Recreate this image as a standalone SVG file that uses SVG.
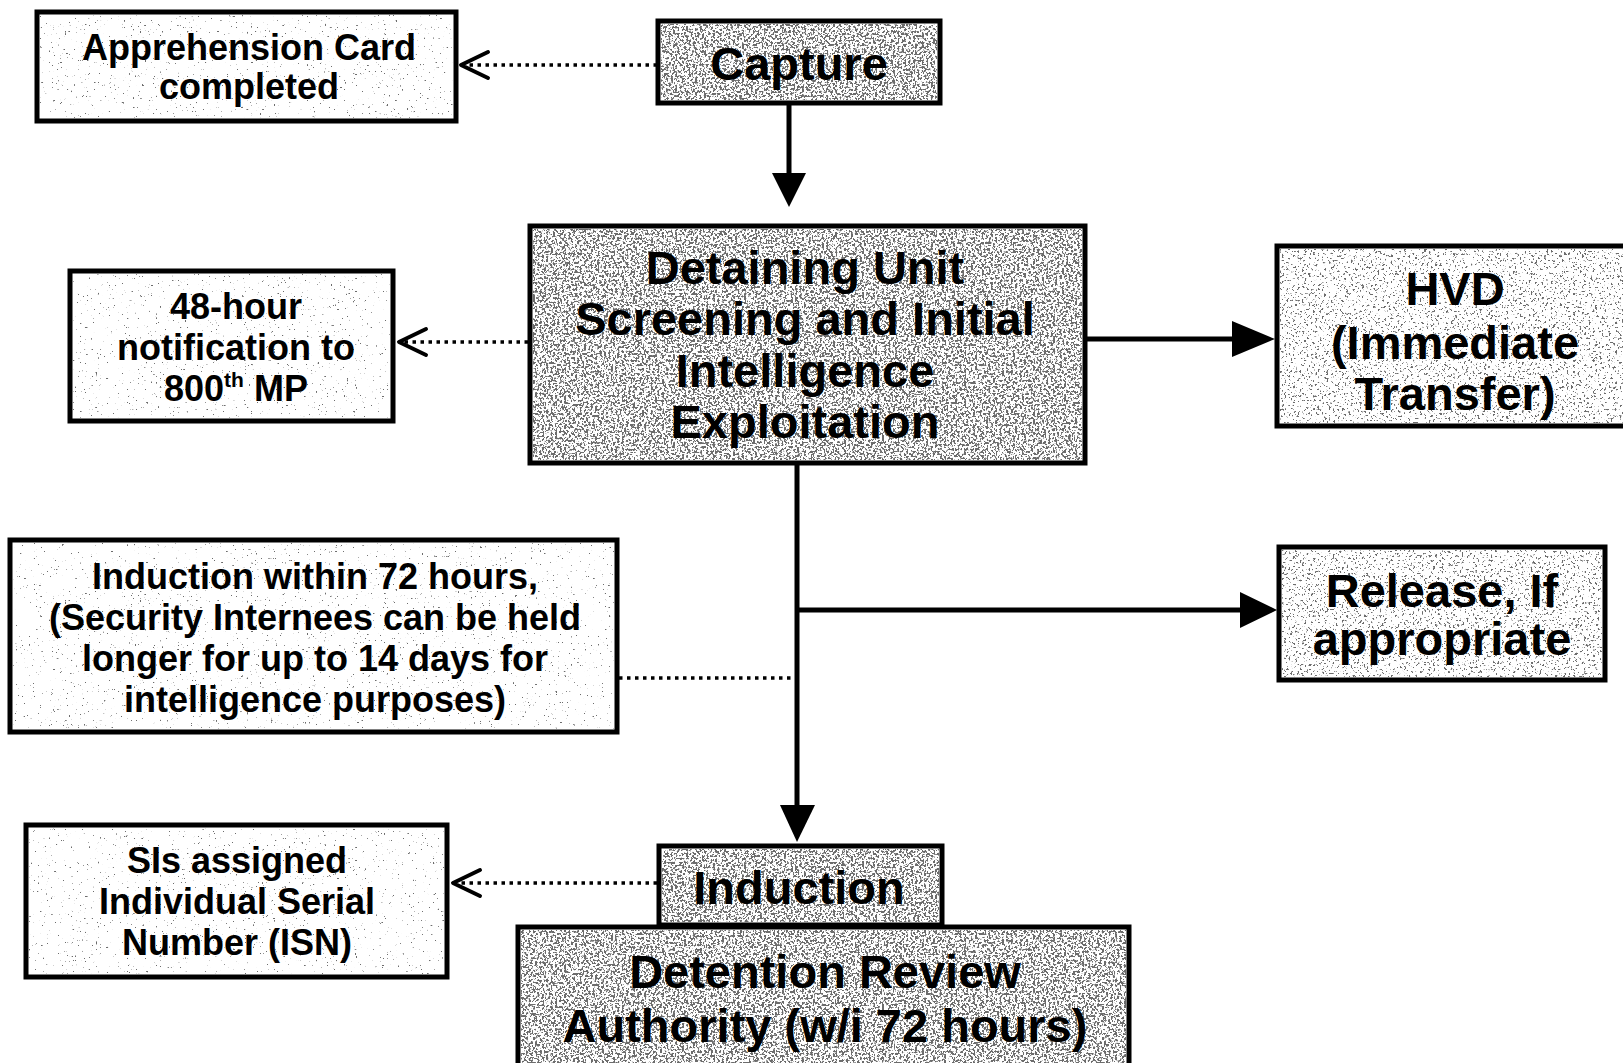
<svg xmlns="http://www.w3.org/2000/svg" width="1623" height="1063" viewBox="0 0 1623 1063">
  <style>
    .box { stroke: #000; stroke-width: 5; fill: #ffffff; }
    .t { font-family: "Liberation Sans", Arial, sans-serif; font-weight: bold; fill: #000; text-anchor: middle; }
    .s { font-size: 36px; }
    .l { font-size: 47px; }
    .solid { stroke: #000; stroke-width: 5; fill: none; }
    .dot { stroke: #000; stroke-width: 3.5; fill: none; stroke-dasharray: 3.5 4.5; }
    .chev { stroke: #000; stroke-width: 4; fill: none; stroke-linecap: round; stroke-linejoin: round; }
    .head { fill: #000; stroke: none; }
  </style>
  <defs>
    <filter id="nDark" x="0" y="0" width="100%" height="100%">
      <feTurbulence type="fractalNoise" baseFrequency="0.45" numOctaves="2" seed="4" result="n"/>
      <feColorMatrix in="n" type="matrix" values="0 0 0 0 0.15  0 0 0 0 0.15  0 0 0 0 0.15  16 0 0 0 -8.1" result="a"/>
      <feComposite in="a" in2="SourceGraphic" operator="in"/>
    </filter>
    <filter id="nMid" x="0" y="0" width="100%" height="100%">
      <feTurbulence type="fractalNoise" baseFrequency="0.45" numOctaves="2" seed="7" result="n"/>
      <feColorMatrix in="n" type="matrix" values="0 0 0 0 0.15  0 0 0 0 0.15  0 0 0 0 0.15  16 0 0 0 -9.8" result="a"/>
      <feComposite in="a" in2="SourceGraphic" operator="in"/>
    </filter>
    <filter id="nLight" x="0" y="0" width="100%" height="100%">
      <feTurbulence type="fractalNoise" baseFrequency="0.45" numOctaves="2" seed="11" result="n"/>
      <feColorMatrix in="n" type="matrix" values="0 0 0 0 0.15  0 0 0 0 0.15  0 0 0 0 0.15  16 0 0 0 -11.6" result="a"/>
      <feComposite in="a" in2="SourceGraphic" operator="in"/>
    </filter>
  </defs>
  <rect width="1623" height="1063" fill="#ffffff"/>

  <g id="connectors">
    <line class="dot" x1="657" y1="65" x2="464" y2="65"/>
    <polyline class="chev" points="488,52 461,65 488,78"/>
    <line class="solid" x1="789" y1="103" x2="789" y2="176"/>
    <polygon class="head" points="772,173 806,173 789,207"/>
    <line class="dot" x1="528" y1="342" x2="402" y2="342"/>
    <polyline class="chev" points="426,329 399,342 426,355"/>
    <line class="solid" x1="1087" y1="339" x2="1235" y2="339"/>
    <polygon class="head" points="1232,321 1232,357 1275,339"/>
    <line class="solid" x1="797" y1="463" x2="797" y2="808"/>
    <polygon class="head" points="780,805 815,805 797,842"/>
    <line class="solid" x1="797" y1="610" x2="1243" y2="610"/>
    <polygon class="head" points="1240,592 1240,628 1277,610"/>
    <line class="dot" x1="619" y1="678" x2="795" y2="678"/>
    <line class="dot" x1="657" y1="883" x2="456" y2="883"/>
    <polyline class="chev" points="480,870 453,883 480,896"/>
  </g>

  <g id="apprehension">
    <rect class="box" x="37" y="12" width="419" height="109"/>
    <rect x="40" y="15" width="413" height="103" fill="#000" filter="url(#nLight)"/>
    <text class="t s" x="249" y="60">Apprehension Card</text>
    <text class="t s" x="249" y="99">completed</text>
  </g>

  <g id="capture">
    <rect class="box" x="658" y="21" width="282" height="82"/>
    <rect x="661" y="24" width="276" height="76" fill="#000" filter="url(#nDark)"/>
    <text class="t l" x="799" y="80">Capture</text>
  </g>

  <g id="detaining">
    <rect class="box" x="530" y="226" width="555" height="237"/>
    <rect x="533" y="229" width="549" height="231" fill="#000" filter="url(#nDark)"/>
    <text class="t l" x="805" y="284">Detaining Unit</text>
    <text class="t l" x="805" y="335">Screening and Initial</text>
    <text class="t l" x="805" y="387">Intelligence</text>
    <text class="t l" x="805" y="438">Exploitation</text>
  </g>

  <g id="notification">
    <rect class="box" x="70" y="271" width="323" height="150"/>
    <rect x="73" y="274" width="317" height="144" fill="#000" filter="url(#nLight)"/>
    <text class="t s" x="236" y="319">48-hour</text>
    <text class="t s" x="236" y="360">notification to</text>
    <text class="t s" x="236" y="401">800<tspan font-size="21" dy="-14">th</tspan><tspan dy="14"> MP</tspan></text>
  </g>

  <g id="hvd">
    <rect class="box" x="1277" y="246" width="360" height="180"/>
    <rect x="1280" y="249" width="354" height="174" fill="#000" filter="url(#nMid)"/>
    <text class="t l" x="1455" y="305">HVD</text>
    <text class="t l" x="1455" y="359">(Immediate</text>
    <text class="t l" x="1455" y="410">Transfer)</text>
  </g>

  <g id="release">
    <rect class="box" x="1279" y="547" width="326" height="133"/>
    <rect x="1282" y="550" width="320" height="127" fill="#000" filter="url(#nMid)"/>
    <text class="t l" x="1442" y="607">Release, If</text>
    <text class="t l" x="1442" y="655">appropriate</text>
  </g>

  <g id="induction-note">
    <rect class="box" x="10" y="540" width="607" height="192"/>
    <rect x="13" y="543" width="601" height="186" fill="#000" filter="url(#nLight)"/>
    <text class="t s" x="315" y="589">Induction within 72 hours,</text>
    <text class="t s" x="315" y="630">(Security Internees can be held</text>
    <text class="t s" x="315" y="671">longer for up to 14 days for</text>
    <text class="t s" x="315" y="712">intelligence purposes)</text>
  </g>

  <g id="isn">
    <rect class="box" x="26" y="825" width="421" height="152"/>
    <rect x="29" y="828" width="415" height="146" fill="#000" filter="url(#nLight)"/>
    <text class="t s" x="237" y="873">SIs assigned</text>
    <text class="t s" x="237" y="914">Individual Serial</text>
    <text class="t s" x="237" y="955">Number (ISN)</text>
  </g>

  <g id="induction">
    <rect class="box" x="659" y="846" width="283" height="79"/>
    <rect x="662" y="849" width="277" height="73" fill="#000" filter="url(#nDark)"/>
    <text class="t l" x="799" y="904">Induction</text>
  </g>

  <g id="review">
    <rect class="box" x="518" y="927" width="611" height="160"/>
    <rect x="521" y="930" width="605" height="154" fill="#000" filter="url(#nDark)"/>
    <text class="t l" x="825" y="988">Detention Review</text>
    <text class="t l" x="825" y="1042">Authority (w/i 72 hours)</text>
  </g>
</svg>
